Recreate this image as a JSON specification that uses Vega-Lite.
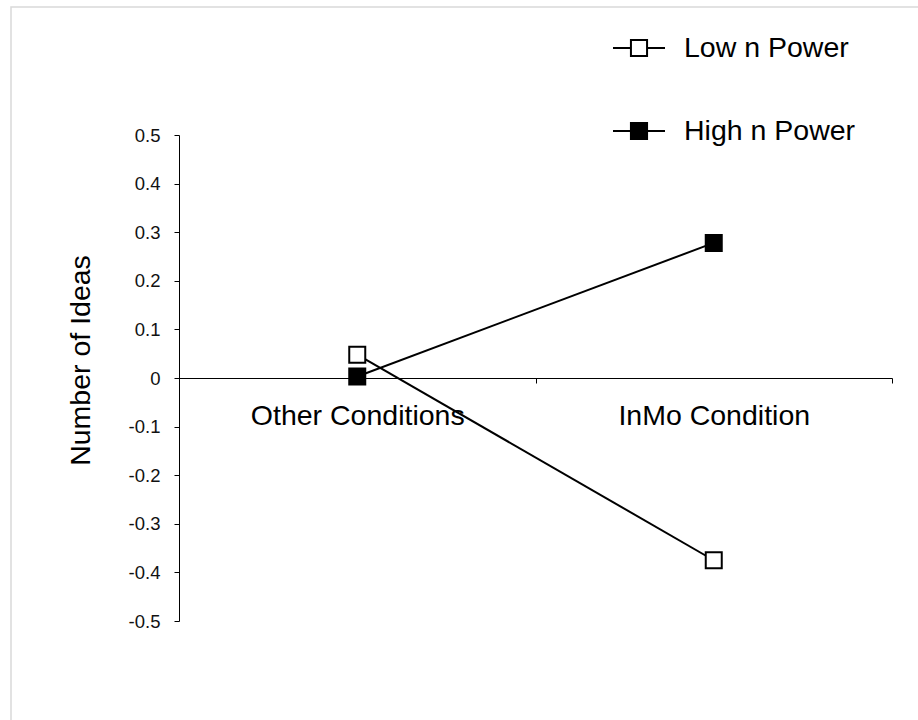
{
  "$schema": "https://vega.github.io/schema/vega-lite/v6.json",
  "width": 930,
  "height": 730,
  "autosize": "none",
  "padding": {"left": 11, "top": 7, "right": 0, "bottom": 0},
  "background": "white",
  "config": {
    "view": {"stroke": "#d9d9d9", "strokeWidth": 1.5},
    "font": "Liberation Sans"
  },
  "data": {
    "values": [
      {"series": "Low n Power", "condition": "Other Conditions", "value": 0.048},
      {"series": "Low n Power", "condition": "InMo Condition", "value": -0.375},
      {"series": "High n Power", "condition": "Other Conditions", "value": 0.003},
      {"series": "High n Power", "condition": "InMo Condition", "value": 0.278}
    ]
  },
  "encoding": {
    "x": {
      "field": "condition",
      "type": "nominal",
      "sort": ["Other Conditions", "InMo Condition"],
      "scale": {"type": "band", "range": [168, 881], "paddingInner": 0, "paddingOuter": 0},
      "axis": {
        "title": null,
        "orient": "bottom",
        "offset": -359,
        "domainColor": "black",
        "domainWidth": 1,
        "tickColor": "black",
        "tickWidth": 1,
        "tickSize": 5,
        "tickBand": "extent",
        "labelFont": "Liberation Sans",
        "labelFontSize": 28.5,
        "labelColor": "black",
        "labelPadding": 18,
        "labelAngle": 0,
        "labelLimit": 500,
        "labelOverlap": false,
        "grid": false
      }
    },
    "y": {
      "field": "value",
      "type": "quantitative",
      "scale": {"domain": [-0.5, 0.5], "range": [614, 128], "nice": false, "zero": false},
      "axis": {
        "title": "Number of Ideas",
        "offset": -168,
        "values": [-0.5, -0.4, -0.3, -0.2, -0.1, 0, 0.1, 0.2, 0.3, 0.4, 0.5],
        "labelExpr": "datum.value == 0 ? '0' : (datum.value < 0 ? '-' : '') + format(abs(datum.value), '.1f')",
        "domainColor": "black",
        "domainWidth": 1,
        "tickColor": "black",
        "tickWidth": 1,
        "tickSize": 5,
        "labelFont": "Liberation Sans",
        "labelFontSize": 18.5,
        "labelColor": "#111",
        "labelPadding": 14,
        "labelOverlap": false,
        "grid": false,
        "titleFont": "Liberation Sans",
        "titleFontSize": 28.5,
        "titleFontWeight": "normal",
        "titleColor": "black",
        "titleAngle": -90,
        "titleAlign": "center",
        "titleBaseline": "alphabetic",
        "titleX": -90,
        "titleY": 353
      }
    }
  },
  "layer": [
    {
      "mark": {"type": "line", "color": "black", "strokeWidth": 2},
      "encoding": {"detail": {"field": "series"}}
    },
    {
      "mark": {"type": "point", "shape": "square", "size": 256, "filled": true, "stroke": "black", "strokeWidth": 2, "opacity": 1},
      "encoding": {
        "fill": {
          "field": "series",
          "type": "nominal",
          "scale": {"domain": ["Low n Power", "High n Power"], "range": ["white", "black"]},
          "legend": {
            "orient": "none",
            "legendX": 601,
            "legendY": 14,
            "title": null,
            "symbolType": "M-1,0H-0.31M0.31,0H1M-0.31,-0.31H0.31V0.31H-0.31Z",
            "symbolSize": 2704,
            "symbolStrokeColor": "black",
            "symbolStrokeWidth": 2,
            "symbolOpacity": 1,
            "labelFont": "Liberation Sans",
            "labelFontSize": 28.5,
            "labelColor": "black",
            "labelOffset": 18,
            "rowPadding": 41,
            "labelLimit": 400
          }
        }
      }
    }
  ]
}
